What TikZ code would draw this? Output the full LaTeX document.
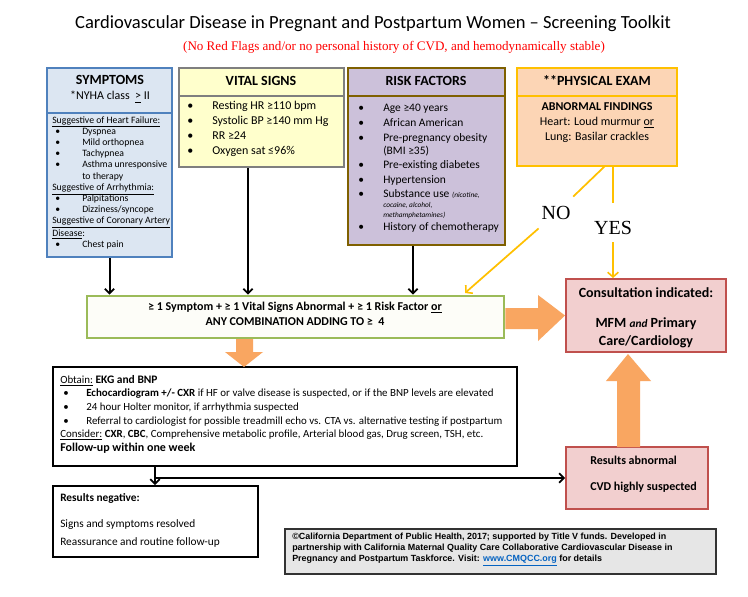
\documentclass[tikz,border=0pt]{standalone}
\usepackage{fontspec}
\setmainfont{Carlito}
\newfontfamily\serifA{Liberation Serif}
\newfontfamily\arialf{Liberation Sans}
\usetikzlibrary{arrows.meta,fit,calc}
\newlength\pxl \setlength\pxl{0.75pt}
\definecolor{symB}{HTML}{4F81BD}\definecolor{symF}{HTML}{DCE6F2}
\definecolor{vsB}{HTML}{7F7F7F}\definecolor{vsF}{HTML}{FFFFCC}
\definecolor{rkB}{HTML}{7F6000}\definecolor{rkF}{HTML}{CCC1DA}
\definecolor{peB}{HTML}{FFC000}\definecolor{peF}{HTML}{FCD5B5}
\definecolor{gnB}{HTML}{9BBB59}\definecolor{gnF}{HTML}{FDFDF8}
\definecolor{csB}{HTML}{C0504D}\definecolor{csF}{HTML}{F2CFCF}
\definecolor{orgA}{HTML}{F9A661}
\definecolor{cpF}{HTML}{E6E6E6}
\definecolor{lnk}{HTML}{0563C1}
\definecolor{yel}{HTML}{FFC000}
\newcommand\bulS[1]{\makebox[30\pxl][l]{\hspace{3\pxl}•}#1}
\newcommand\bulV[1]{\makebox[25\pxl][l]{•}#1}
\newcommand\bulO[1]{\makebox[26\pxl][l]{\hspace{3\pxl}•}#1}
\begin{document}
\begin{tikzpicture}[x=0.75pt,y=-0.75pt,
  boxr/.style={draw, line width=1.5pt, inner sep=0pt},
  hdr/.style={font=\fontsize{10.5}{12}\selectfont\bfseries, inner sep=0pt},
  txt/.style={inner sep=0pt, align=left, anchor=north west},
  blk/.style={draw=black, line width=1.5pt, -{Straight Barb[length=3.5pt,width=7pt,line width=1.3pt]}},
  yl/.style={draw=yel, line width=1.3pt},
  yla/.style={yl, -{Straight Barb[length=3.5pt,width=8pt,line width=1.2pt]}},
  lab/.style={font=\serifA\fontsize{15}{15}\selectfont, inner xsep=2pt, inner ysep=0pt, anchor=base}
]
\useasboundingbox[fill=white] (0,0) rectangle (748,596);

% title
\node[inner sep=0pt, font=\fontsize{13.9}{15}\selectfont] (title) at (373,24) {Cardiovascular Disease in Pregnant and Postpartum Women -- Screening Toolkit};
\node[inner sep=0pt, text=red, font=\serifA\fontsize{9.8}{12}\selectfont] (sub) at (394,47) {(No Red Flags and/or no personal history of CVD, and hemodynamically stable)};

% SYMPTOMS
\node[boxr, draw=symB, fill=symF, fit={(47,68)(172,113)}] (symh) {};
\node[boxr, draw=symB, fill=symF, fit={(47,113)(172,257)}] (symb) {};
\node[hdr] (symt) at (110,80) {SYMPTOMS};
\node[inner sep=0pt, font=\fontsize{9}{11}\selectfont] (nyha) at (110,97) {*NYHA class \ \underline{>} II};
\node[txt, font=\fontsize{7.3}{8.4}\selectfont] (symtx) at (52,116) {%
\underline{Suggestive of Heart Failure:}\\
\bulS{Dyspnea}\\
\bulS{Mild orthopnea}\\
\bulS{Tachypnea}\\
\bulS{Asthma unresponsive}\\
\makebox[30\pxl]{}to therapy\\
\underline{Suggestive of Arrhythmia:}\\
\bulS{Palpitations}\\
\bulS{Dizziness/syncope}\\
\underline{Suggestive of Coronary Artery}\\[1pt]
\underline{Disease}:\\
\bulS{Chest pain}};

% VITAL SIGNS
\node[boxr, draw=vsB, fill=vsF, fit={(179,68)(344,96)}] (vsh) {};
\node[boxr, draw=vsB, fill=vsF, fit={(179,96)(344,167)}] (vsb) {};
\node[hdr] (vst) at (261,81) {VITAL SIGNS};
\node[txt, font=\fontsize{9}{11.25}\selectfont] (vstx) at (187,101) {%
\bulV{Resting HR ≥110 bpm}\\
\bulV{Systolic BP ≥140 mm Hg}\\
\bulV{RR ≥24}\\
\bulV{Oxygen sat ≤96\%}};

% RISK FACTORS
\node[boxr, draw=rkB, fill=rkF, fit={(348,68)(505,96)}] (rkh) {};
\node[boxr, draw=rkB, fill=rkF, fit={(348,96)(505,245)}] (rkb) {};
\node[hdr] (rkt) at (426,81) {RISK FACTORS};
\node[txt, font=\fontsize{8.6}{11.25}\selectfont] (rktx) at (358,104) {%
\bulV{Age ≥40 years}\\
\bulV{African American}\\
\bulV{Pre-pregnancy obesity}\\[-1.5pt]
\makebox[25\pxl]{}(BMI ≥35)\\[-1pt]
\bulV{Pre-existing diabetes}\\
\bulV{Hypertension}\\[-1pt]
\bulV{Substance use {\fontsize{5.5}{6}\selectfont\itshape (nicotine,}}\\[-3.5pt]
\makebox[25\pxl]{}{\fontsize{5.5}{6}\selectfont\itshape cocaine, alcohol,}\\[-3.5pt]
\makebox[25\pxl]{}{\fontsize{5.5}{6}\selectfont\itshape methamphetamines)}\\[-1.5pt]
\bulV{History of chemotherapy}};

% PHYSICAL EXAM
\node[boxr, draw=peB, fill=peF, fit={(517,68)(677,96)}] (peh) {};
\node[boxr, draw=peB, fill=peF, fit={(517,96)(677,166)}] (peb) {};
\node[hdr] (pet) at (597,81) {**PHYSICAL EXAM};
\node[inner sep=0pt, align=center, anchor=north, font=\fontsize{9}{11.25}\selectfont] (petx) at (597,102) {%
\textbf{ABNORMAL FINDINGS}\\
Heart: Loud murmur \underline{or}\\
Lung: Basilar crackles};

% green criteria box
\node[boxr, line width=2pt, draw=gnB, fill=gnF, fit={(87,296)(504,338)}] (grn) {};
\node[inner sep=0pt, align=center, font=\fontsize{9}{11.25}\selectfont\bfseries] (grntx) at (295,314) {%
≥ 1 Symptom + ≥ 1 Vital Signs Abnormal + ≥ 1 Risk Factor \underline{or}\\
ANY COMBINATION ADDING TO ≥ \ 4};

% consultation
\node[boxr, draw=csB, fill=csF, fit={(566,279)(726,352)}] (cons) {};
\node[inner sep=0pt, align=center, anchor=north, font=\fontsize{10.5}{13.5}\selectfont\bfseries] (constx) at (646,287) {%
Consultation indicated:\\[9pt]
MFM {\fontsize{8.5}{10}\selectfont\itshape and} Primary\\
Care/Cardiology};

% obtain box
\node[boxr, draw=black, fill=white, fit={(53,367)(517,466)}] (obt) {};
\node[txt, font=\fontsize{8.2}{10.2}\selectfont] (obttx) at (60,375) {%
\underline{Obtain:} {\fontsize{8.6}{10}\selectfont\bfseries EKG and BNP}\\
\bulO{\textbf{Echocardiogram +/- CXR} if HF or valve disease is suspected, or if the BNP levels are elevated}\\
\bulO{24 hour Holter monitor, if arrhythmia suspected}\\
\bulO{Referral to cardiologist for possible treadmill echo vs. CTA vs. alternative testing if postpartum}\\
\underline{Consider:} \textbf{CXR}, \textbf{CBC}, Comprehensive metabolic profile, Arterial blood gas, Drug screen, TSH, etc.\\
{\fontsize{9}{10}\selectfont\bfseries Follow-up within one week}};

% results abnormal
\node[boxr, draw=csB, fill=csF, fit={(566,447)(708,509)}] (ra) {};
\node[txt, font=\fontsize{9}{11}\selectfont\bfseries] (ratx) at (590,456) {%
Results abnormal\\[8pt]
CVD highly suspected};

% results negative
\node[boxr, draw=black, fill=white, fit={(53,486)(258,557)}] (rn) {};
\node[txt, font=\fontsize{8.5}{13.5}\selectfont] (rntx) at (60,493) {%
\textbf{Results negative:}\\[6pt]
Signs and symptoms resolved\\
Reassurance and routine follow-up};

% copyright
\node[draw=black!80, line width=0.8pt, fill=cpF, inner sep=0pt, fit={(285,529)(716,574)}] (cp) {};
\node[txt, font=\arialf\fontsize{6.7}{8.2}\selectfont\bfseries] (cptx) at (292,533) {%
©California Department of Public Health, 2017; supported by Title V funds. Developed in\\
partnership with California Maternal Quality Care Collaborative Cardiovascular Disease in\\
Pregnancy and Postpartum Taskforce. Visit: \textcolor{lnk}{\underline{www.CMQCC.org}} for details};

% black connectors
\coordinate (vx) at (248,0);
\coordinate (rx) at (413,0);
\coordinate (ox) at (155,0);
\draw[blk] (symb.south) -- (symb.south |- grn.north);
\draw[blk] (vsb.south -| vx) -- (grn.north -| vx);
\draw[blk] (rkb.south -| rx) -- (grn.north -| rx);
\draw[blk] (obt.south -| ox) -- (rn.north -| ox);
\draw[blk] (obt.south -| ox) |- (ra.west);

% NO / YES connectors
\coordinate (noS) at (605,166);
\coordinate (noE) at (465,293);
\node[lab, text height=17pt, text depth=7.5pt] (nolab) at (556,219.5) {NO};
\draw[yl] (noS) -- (nolab);
\draw[yla] (nolab) -- (noE);
\coordinate (yesS) at (613,166);
\node[lab, inner xsep=0pt, text height=23pt, text depth=6pt] (yeslab) at (613,234) {YES};
\draw[yl] (yesS) -- (yeslab.north);
\draw[yla] (yeslab.south) -- (cons.north -| yesS);

% orange block arrows
\fill[orgA] (grn.east |- 0,308) -- (538,308) -- (538,295) -- (cons.west) -- (538,341) -- (538,329) -- (grn.east |- 0,329) -- cycle;
\fill[orgA] (236,339) -- (253,339) -- (253,352) -- (263,352) -- (244,367) -- (225,352) -- (236,352) -- cycle;
\fill[orgA] (617,447) -- (617,381) -- (606,381) -- (628,354) -- (651,381) -- (640,381) -- (640,447) -- cycle;
\end{tikzpicture}
\end{document}
